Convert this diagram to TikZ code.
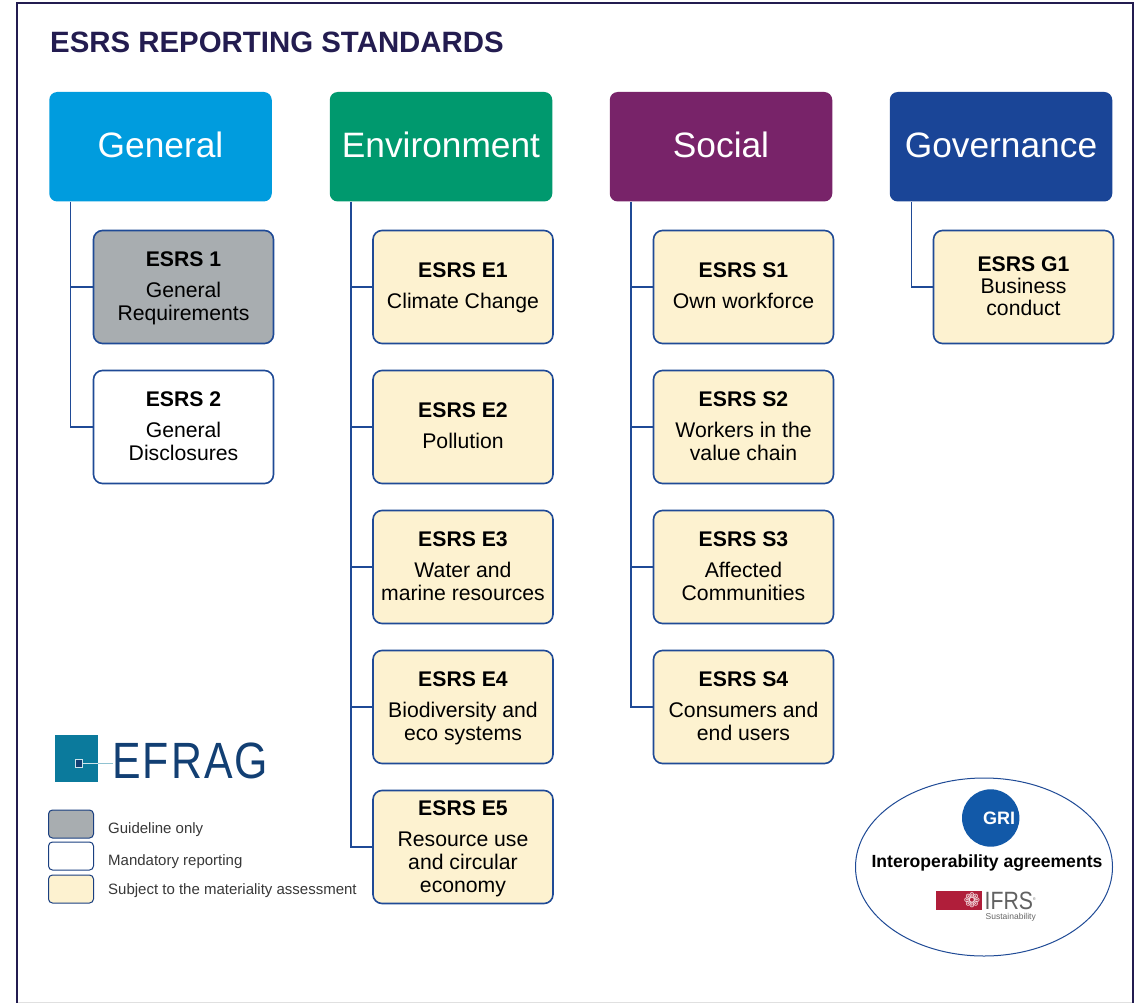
\documentclass[tikz,border=0pt]{standalone}
\usepackage{fontspec}
\setmainfont{Liberation Sans}
\newfontfamily\djv{DejaVu Sans}
\usetikzlibrary{shapes.geometric}
\definecolor{frameC}{HTML}{231C50}
\definecolor{lineC}{HTML}{1F4A96}
\definecolor{genC}{HTML}{009CDE}
\definecolor{envC}{HTML}{00996E}
\definecolor{socC}{HTML}{782369}
\definecolor{govC}{HTML}{1A4597}
\definecolor{greyC}{HTML}{A8ADB0}
\definecolor{creamC}{HTML}{FDF2D0}
\definecolor{efragC}{HTML}{0B7A9C}
\definecolor{efragT}{HTML}{123F73}
\definecolor{griC}{HTML}{1259A8}
\definecolor{ifrsC}{HTML}{B01E3A}
\tikzset{
  x=1pt,y=-1pt,
  head/.style={rounded corners=8pt,minimum width=222.5pt,minimum height=109.5pt,inner sep=0pt,text=white,text height=28pt,text depth=6.5pt,font=\fontsize{35.3}{40}\selectfont},
  std/.style={draw=lineC,line width=1.6pt,rounded corners=9pt,minimum width=180pt,minimum height=113pt,inner sep=0pt,align=center,text=black,font=\fontsize{21.2}{22.8}\selectfont},
  conn/.style={draw=lineC,line width=1.6pt},
  swatch/.style={draw=lineC!85!black,line width=1pt,rounded corners=4pt,minimum width=45pt,minimum height=28pt,inner sep=0pt},
  legend/.style={anchor=west,inner sep=0pt,text=black!78,font=\fontsize{15}{17}\selectfont},
}
\newcommand{\stdtxt}[2]{\rule{0pt}{19pt}\textbf{#1}\\[8pt]#2\rule[-6.5pt]{0pt}{1pt}}
\begin{document}
\begin{tikzpicture}
\useasboundingbox (0,0) rectangle (1140,1003);
\fill[white] (0,0) rectangle (1140,1003);
\draw[black!12,line width=1pt] (17,1002) -- (1132,1002);
\draw[frameC,line width=2pt] (16.5,1003) -- (16.5,3) -- (1132.7,3) -- (1132.7,1003);
\node[anchor=west,inner sep=0pt,text=frameC,font=\bfseries\fontsize{29.4}{32}\selectfont] (title) at (50,42.5) {ESRS REPORTING STANDARDS};

\node[head,fill=genC] (hg) at (160.5,146.75) {General};
\node[head,fill=envC] (he) at (441,146.75) {Environment};
\node[head,fill=socC] (hs) at (721,146.75) {Social};
\node[head,fill=govC] (hv) at (1001,146.75) {Governance};

\node[std,fill=greyC] (g1) at (183.5,287) {\stdtxt{ESRS 1}{General\\Requirements}};
\node[std,fill=white] (g2) at (183.5,427) {\stdtxt{ESRS 2}{General\\Disclosures}};

\node[std,fill=creamC] (e1) at (463,287) {\stdtxt{ESRS E1}{Climate Change}};
\node[std,fill=creamC] (e2) at (463,427) {\stdtxt{ESRS E2}{Pollution}};
\node[std,fill=creamC] (e3) at (463,567) {\stdtxt{ESRS E3}{Water and\\marine resources}};
\node[std,fill=creamC] (e4) at (463,707) {\stdtxt{ESRS E4}{Biodiversity and\\eco systems}};
\node[std,fill=creamC] (e5) at (463,847) {\rule{0pt}{20pt}\textbf{ESRS E5}\\[9pt]Resource use\\and circular\\economy\rule[-6.5pt]{0pt}{1pt}};

\node[std,fill=creamC] (s1) at (743.5,287) {\stdtxt{ESRS S1}{Own workforce}};
\node[std,fill=creamC] (s2) at (743.5,427) {\stdtxt{ESRS S2}{Workers in the\\value chain}};
\node[std,fill=creamC] (s3) at (743.5,567) {\stdtxt{ESRS S3}{Affected\\Communities}};
\node[std,fill=creamC] (s4) at (743.5,707) {\stdtxt{ESRS S4}{Consumers and\\end users}};

\node[std,fill=creamC] (v1) at (1023.5,287) {\textbf{ESRS G1}\\[-0.4pt]Business\\[-0.4pt]conduct\rule[-2pt]{0pt}{1pt}};

% connectors
\draw[conn] (hg.south west) ++(21.5,0) coordinate (tg) |- (g2.west);
\draw[conn] (tg |- g1.west) -- (g1.west);
\draw[conn] (he.south west) ++(21.5,0) coordinate (te) |- (e5.west);
\foreach \n in {e1,e2,e3,e4} \draw[conn] (te |- \n.west) -- (\n.west);
\draw[conn] (hs.south west) ++(21.5,0) coordinate (ts) |- (s4.west);
\foreach \n in {s1,s2,s3} \draw[conn] (ts |- \n.west) -- (\n.west);
\draw[conn] (hv.south west) ++(22,0) coordinate (tv) |- (v1.west);

% EFRAG logo
\fill[efragC] (55,735) rectangle (98,782);
\draw[white!80!efragC,line width=0.8pt] (82,763) -- (98,763);
\draw[efragC!45!white,line width=0.8pt] (98,763) -- (113,763);
\draw[white!80!efragC,line width=0.8pt,fill=efragT] (75,759.5) rectangle (82,767);
\node[anchor=west,inner sep=0pt,text=efragT,font=\fontsize{51}{54}\selectfont] (efrag) at (112,761) {\scalebox{0.84}[1]{\addfontfeature{LetterSpace=5}EFRAG}};

% legend
\node[swatch,fill=greyC] (k1) at (71,824) {};
\node[swatch,fill=white] (k2) at (71,856) {};
\node[swatch,fill=creamC] (k3) at (71,889) {};
\node[legend] (l1) at (108,830) {Guideline only};
\node[legend] (l2) at (108,862) {Mandatory reporting};
\node[legend] (l3) at (108,891) {Subject to the materiality assessment};

% interoperability ellipse
\node[draw=lineC,line width=1pt,ellipse,minimum width=257pt,minimum height=178pt,inner sep=0pt] (oval) at (984,867) {};
\fill[griC] (990.7,818) circle (28.7pt);
\node[inner sep=0pt,text=white,font=\bfseries\fontsize{18}{18}\selectfont] (gri) at (999,818) {GRI};
\node[inner sep=0pt,text=black,font=\bfseries\fontsize{17.6}{20}\selectfont] (iop) at (987,863) {Interoperability agreements};
\fill[ifrsC] (936,891) rectangle (982,910);
\node[inner sep=0pt,text=white!85!ifrsC,font=\djv\fontsize{20}{20}\selectfont] (flower) at (972,900.5) {\char"2741};
\node[anchor=west,inner sep=0pt,text=black!62,font=\fontsize{25}{25}\selectfont] (ifrs) at (984.5,901) {\scalebox{0.85}[1]{IFRS\raisebox{9pt}{\fontsize{4}{4}\selectfont®}}};
\node[anchor=east,inner sep=0pt,text=black!60,font=\fontsize{8.5}{9}\selectfont] (sus) at (1036,917.5) {Sustainability};
\end{tikzpicture}
\end{document}
